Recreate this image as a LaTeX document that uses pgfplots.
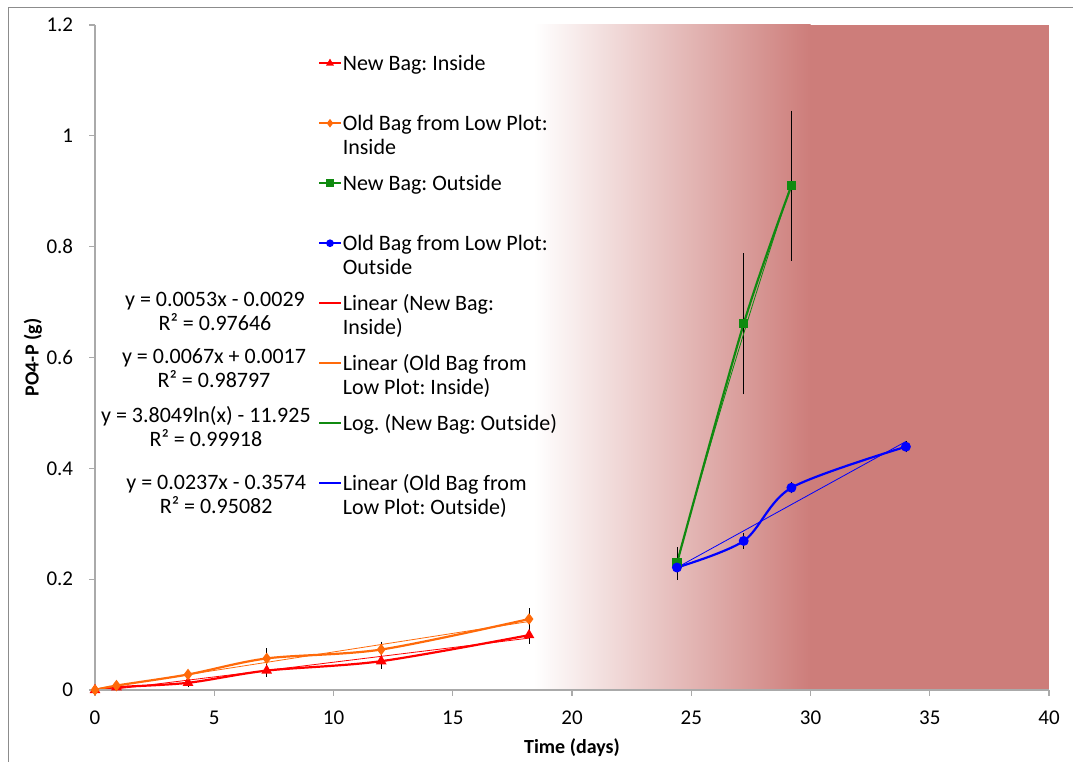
\documentclass[border=0pt]{standalone}
\usepackage{fontspec}
\setmainfont{Carlito}
\usepackage{pgfplots}
\pgfplotsset{compat=1.18}
\usepackage{pgfplotstable}

\definecolor{bgred}{RGB}{205,125,122}
\definecolor{axisgray}{RGB}{170,170,170}
\definecolor{framegray}{RGB}{140,140,140}
\definecolor{sred}{RGB}{255,0,0}
\definecolor{sorange}{RGB}{255,106,10}
\definecolor{sgreen}{RGB}{16,138,16}
\definecolor{sblue}{RGB}{0,0,255}

% time (days), PO4-P (g), error
\pgfplotstableread{
x y e
0 0 0
0.9 0.005 0.002
3.9 0.013 0.003
7.2 0.035 0.006
12 0.052 0.008
18.2 0.099 0.010
}\newinside
\pgfplotstableread{
x y e
0 0 0
0.9 0.008 0.002
3.9 0.028 0.003
7.2 0.057 0.013
12 0.073 0.009
18.2 0.128 0.014
}\oldinside
\pgfplotstableread{
x y e
24.4 0.229 0.023
27.2 0.661 0.122
29.2 0.910 0.130
}\newoutside
\pgfplotstableread{
x y e
24.4 0.221 0.017
27.2 0.269 0.009
29.2 0.365 0.005
34.0 0.439 0.005
}\oldoutside
% log trend y = 3.8049 ln(x) - 11.925 evaluated over 24.4..29.2
\pgfplotstableread{
x y
24.4 0.2301
25.0 0.3225
25.5 0.3978
26.0 0.4717
26.5 0.5442
27.0 0.6153
27.5 0.6851
28.0 0.7537
28.5 0.8211
29.0 0.8872
29.2 0.9134
}\logtrend

\begin{document}
\frenchspacing
\fontsize{20}{24}\selectfont
\begin{tikzpicture}
\path[use as bounding box] (0,0) rectangle (1073pt,762pt);
\draw[framegray, line width=1pt] (8pt,-5pt) -- (8pt,754pt) -- (1080pt,754pt);
\begin{axis}[
  at={(95pt,72pt)}, anchor=south west,
  scale only axis, width=954pt, height=665pt,
  xmin=0, xmax=40, ymin=0, ymax=1.2,
  axis on top,
  axis lines*=left,
  axis line style={draw=axisgray, line width=1.6pt},
  tick align=outside, major tick length=6pt,
  tick style={draw=axisgray, line width=1.2pt},
  xtick={0,5,10,15,20,25,30,35,40},
  ytick={0,0.2,0.4,0.6,0.8,1,1.2},
  /pgf/number format/assume math mode=true,
  ticklabel style={font=\fontsize{21}{24}\selectfont, black},
  yticklabel style={xshift=-9pt},
  xticklabel style={yshift=-8pt},
  xlabel={Time (days)}, ylabel={PO4-P (g)},
  xlabel style={font=\bfseries, at={(axis description cs:0.5,-0.0872)}, anchor=center},
  ylabel style={font=\bfseries, at={(axis description cs:-0.065,0.5)}, anchor=center, rotate=0},
  legend style={at={(axis cs:9.35,1.1458)}, anchor=north west, draw=none, fill=none,
    inner sep=0pt, row sep=0pt, column sep=1pt,
    font=\fontsize{22}{24}\selectfont,
    nodes={inner sep=0pt, text height=15pt, text depth=45pt},
    cells={anchor=base west}},
  legend image code/.code={\draw[mark repeat=2,mark phase=2, line width=1.6pt, mark size=3pt] plot coordinates {(0pt,7pt)(11pt,7pt)(22pt,7pt)};},
  error bars/error bar style={black, line width=0.8pt},
  error bars/error mark options={black, mark size=3pt, line width=0.8pt},
]
% shaded background band
\addplot[draw=none, left color=white, right color=bgred, forget plot]
  coordinates {(18.4,1.2) (30,1.2)} \closedcycle;
\addplot[draw=none, fill=bgred, forget plot]
  coordinates {(29.98,1.2) (40,1.2)} \closedcycle;

% measured series
\addplot[sred, line width=2.2pt, smooth, mark=triangle*, mark size=4pt, mark options={solid},
  error bars/.cd, y dir=both, y explicit]
  table[x=x, y=y, y error=e] {\newinside};
\addlegendentry{\parbox[t]{240pt}{New Bag: Inside}}
\addplot[sorange, line width=2.2pt, smooth, mark=diamond*, mark size=4pt, mark options={solid},
  error bars/.cd, y dir=both, y explicit]
  table[x=x, y=y, y error=e] {\oldinside};
\addlegendentry{\parbox[t]{240pt}{Old Bag from Low Plot:\\Inside}}
\addplot[sgreen, line width=2.2pt, smooth, mark=square*, mark size=3.5pt, mark options={solid},
  error bars/.cd, y dir=both, y explicit]
  table[x=x, y=y, y error=e] {\newoutside};
\addlegendentry{\parbox[t]{240pt}{New Bag: Outside}}
\addplot[sblue, line width=2.2pt, smooth, mark=*, mark size=3.8pt, mark options={solid},
  error bars/.cd, y dir=both, y explicit]
  table[x=x, y=y, y error=e] {\oldoutside};
\addlegendentry{\parbox[t]{240pt}{Old Bag from Low Plot:\\Outside}}

% trend lines
\addplot[sred, line width=0.8pt] coordinates {(0,-0.0029) (18.2,0.0936)};
\addlegendentry{\parbox[t]{240pt}{Linear (New Bag:\\Inside)}}
\addplot[sorange, line width=0.8pt] coordinates {(0,0.0017) (18.2,0.1236)};
\addlegendentry{\parbox[t]{240pt}{Linear (Old Bag from\\Low Plot: Inside)}}
\addplot[sgreen, line width=0.8pt, smooth] table[x=x, y=y] {\logtrend};
\addlegendentry{\parbox[t]{240pt}{Log. (New Bag: Outside)}}
\addplot[sblue, line width=0.8pt] coordinates {(24.4,0.2209) (34,0.4484)};
\addlegendentry{\parbox[t]{240pt}{Linear (Old Bag from\\Low Plot: Outside)}}

% trend line equations
\begin{scope}[font=\fontsize{22}{24}\selectfont]
\node[align=center] at (axis cs:5.03,0.683) {y = 0.0053x - 0.0029\\R² = 0.97646};
\node[align=center] at (axis cs:4.99,0.580) {y = 0.0067x + 0.0017\\R² = 0.98797};
\node[align=center] at (axis cs:4.65,0.4755) {y = 3.8049ln(x) - 11.925\\R² = 0.99918};
\node[align=center] at (axis cs:5.08,0.3537) {y = 0.0237x - 0.3574\\R² = 0.95082};
\end{scope}
\end{axis}
\end{tikzpicture}
\end{document}
